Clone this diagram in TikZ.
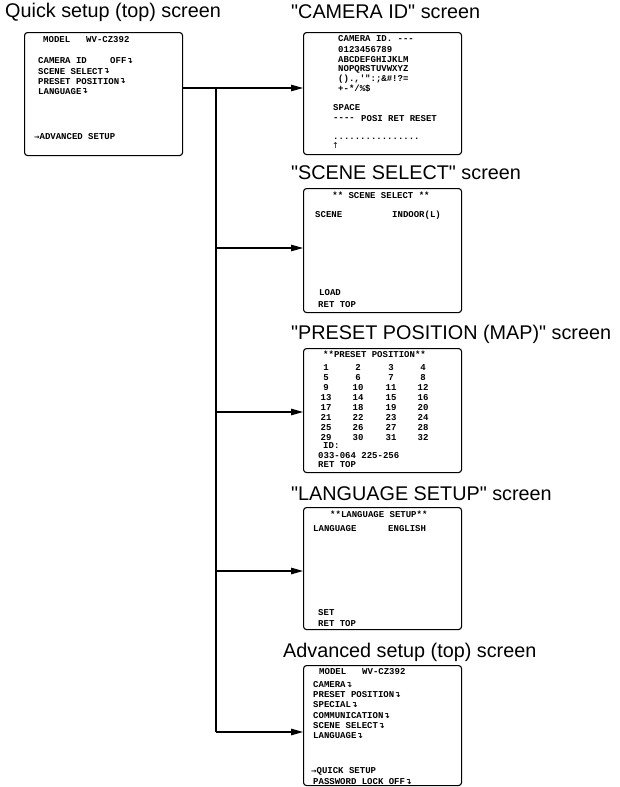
\documentclass[tikz,border=0pt]{standalone}
\usepackage{fontspec}
\setmainfont{Liberation Sans}
\newfontfamily\screenfont{Liberation Mono}
\newfontfamily\arrowfont{DejaVu Sans}
\usetikzlibrary{arrows.meta, positioning}

\newcommand{\retmark}{{\arrowfont\fontsize{8}{8}\selectfont\raisebox{0.5pt}{↴}}}
\newcommand{\selmark}{{\arrowfont\fontsize{6.5}{6.5}\selectfont →}}

\tikzset{
  screen/.style={draw, line width=1.1pt, rounded corners=3pt, anchor=north west, inner sep=0pt},
  caption/.style={anchor=west, inner sep=0pt, font=\fontsize{19.8}{19.8}\selectfont},
  txt/.style={anchor=west, inner sep=0pt, font=\screenfont\bfseries\fontsize{9}{9}\selectfont},
  feed/.style={line width=1.2pt, -{Triangle[length=12pt,width=6.5pt]}},
  wire/.style={line width=1.2pt},
}

\begin{document}
\begin{tikzpicture}[x=1pt,y=-1pt]
    \useasboundingbox (0,0) rectangle (619,787);

    % Captions
    \node[caption] (quickcap) at (5,12) {Quick setup (top) screen};
    \node[caption] (camcap) at (291,12) {\textquotedbl CAMERA ID\textquotedbl{} screen};
    \node[caption] (scenecap) at (291,173) {\textquotedbl SCENE SELECT\textquotedbl{} screen};
    \node[caption] (presetcap) at (291,334) {\textquotedbl PRESET POSITION (MAP)\textquotedbl{} screen};
    \node[caption] (langcap) at (291,494) {\textquotedbl LANGUAGE SETUP\textquotedbl{} screen};
    \node[caption] (advcap) at (283,652) {Advanced setup (top) screen};

    % Screen frames
    \node[screen, minimum width=158pt, minimum height=123pt] (quick) at (24,32) {};
    \node[screen, minimum width=158pt, minimum height=122pt] (camera) at (303,32) {};
    \node[screen, minimum width=158pt, minimum height=124pt] (scene) at (303,188) {};
    \node[screen, minimum width=158pt, minimum height=124pt] (preset) at (303,348) {};
    \node[screen, minimum width=158pt, minimum height=122pt] (language) at (303,507) {};
    \node[screen, minimum width=158pt, minimum height=120pt] (advanced) at (303,665) {};

    % Quick setup (top) screen
    \node[txt] (qmodel) at (43,40) {MODEL};
    \node[txt] (qtype) at (86,40) {WV-CZ392};
    \node[txt] (qcam) at (38,61) {CAMERA ID};
    \node[txt] (qoff) at (110,61) {OFF\retmark};
    \node[txt] (qscene) at (38,71.5) {SCENE SELECT\retmark};
    \node[txt] (qpreset) at (38,81.5) {PRESET POSITION\retmark};
    \node[txt] (qlang) at (38,91.5) {LANGUAGE\retmark};
    \node[txt] (qadv) at (34,137) {\selmark ADVANCED SETUP};

    % CAMERA ID screen
    \node[txt] (cid) at (338,39) {CAMERA ID. -{}-{}-};
    \node[txt] (cdigits) at (338,50) {0123456789};
    \node[txt] (cupper) at (338,60) {ABCDEFGHIJKLM};
    \node[txt] (clower) at (338,69.5) {NOPQRSTUVWXYZ};
    \node[txt] (cpunct) at (338,79) {().,\textquotesingle":;\&\#!?=};
    \node[txt] (cmath) at (338,89) {+-*/\%\$};
    \node[txt] (cspace) at (333,108) {SPACE};
    \node[txt] (cdash) at (333,119) {-{}-{}-{}-};
    \node[txt] (cposi) at (361,119) {POSI RET RESET};
    \node[txt, anchor=base west] (cdots) at (333,139) {................};
    \node[inner sep=0pt, font=\arrowfont\fontsize{8}{8}\selectfont] (ccursor) at (335.5,146) {↑};

    % SCENE SELECT screen
    \node[txt, anchor=center] (stitle) at (381,195) {** SCENE SELECT **};
    \node[txt] (sscene) at (315,215) {SCENE};
    \node[txt] (sindoor) at (392,215) {INDOOR(L)};
    \node[txt] (sload) at (319,293) {LOAD};
    \node[txt] (sret) at (318,305) {RET TOP};

    % PRESET POSITION (MAP) screen
    \node[txt] (ptitle) at (323,354) {**PRESET POSITION**};
    \foreach \row in {0,...,7}
      \foreach \col/\cx in {1/326,2/358,3/391,4/423} {
        \pgfmathtruncatemacro{\num}{4*\row+\col}
        \node[txt, anchor=base] (p\num) at (\cx,370+10*\row) {\num};
      }
    \node[txt] (pid) at (323,446) {ID:};
    \node[txt] (prange) at (318,456) {033-064 225-256};
    \node[txt] (pret) at (318,465) {RET TOP};

    % LANGUAGE SETUP screen
    \node[txt] (ltitle) at (330,514) {**LANGUAGE SETUP**};
    \node[txt] (llang) at (313,529) {LANGUAGE};
    \node[txt] (lenglish) at (388,529) {ENGLISH};
    \node[txt] (lset) at (318,613) {SET};
    \node[txt] (lret) at (318,624) {RET TOP};

    % Advanced setup (top) screen
    \node[txt] (amodel) at (319,672) {MODEL};
    \node[txt] (atype) at (362,672) {WV-CZ392};
    \node[txt] (acam) at (313,685) {CAMERA\retmark};
    \node[txt] (apreset) at (313,695) {PRESET POSITION\retmark};
    \node[txt] (aspecial) at (313,705) {SPECIAL\retmark};
    \node[txt] (acomm) at (313,716) {COMMUNICATION\retmark};
    \node[txt] (ascene) at (313,726) {SCENE SELECT\retmark};
    \node[txt] (alang) at (313,736) {LANGUAGE\retmark};
    \node[txt] (aquick) at (311,771) {\selmark QUICK SETUP};
    \node[txt] (apass) at (313,782) {PASSWORD LOCK OFF\retmark};

    % Connectors
    \coordinate (fork) at (216,88);
    \draw[feed] (quick.east |- fork) -- (camera.west |- fork);
    \foreach \scr/\yy in {scene/248, preset/412, language/571, advanced/732}
      \coordinate (b\scr) at (216,\yy);
    \draw[wire] (fork) -- (badvanced);
    \foreach \scr in {scene, preset, language, advanced}
      \draw[feed] (b\scr) -- (\scr.west |- b\scr);

\end{tikzpicture}
\end{document}
